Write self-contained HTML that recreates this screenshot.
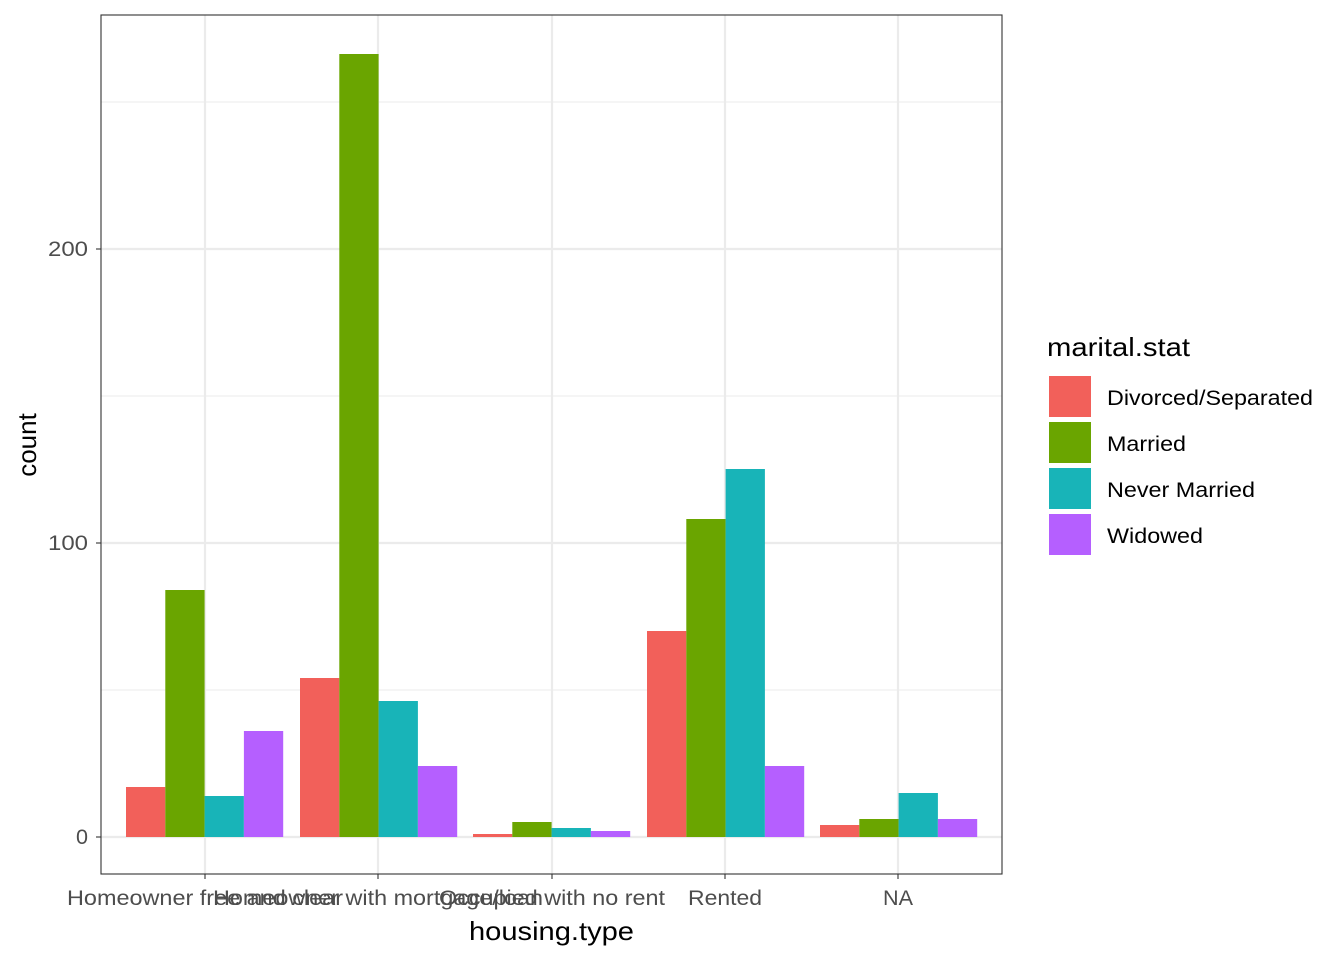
<!DOCTYPE html>
<html><head><meta charset="utf-8"><style>body{margin:0;background:#fff}</style></head><body>
<svg width="1344" height="960" xmlns="http://www.w3.org/2000/svg" font-family="Liberation Sans, Arial, sans-serif">
<rect width="1344" height="960" fill="#fff"/>
<g stroke="#ebebeb" stroke-width="1.1">
<line x1="101" x2="1002" y1="102" y2="102"/><line x1="101" x2="1002" y1="396" y2="396"/><line x1="101" x2="1002" y1="690" y2="690"/>
</g>
<g stroke="#ebebeb" stroke-width="2.2">
<line x1="101" x2="1002" y1="249" y2="249"/><line x1="101" x2="1002" y1="543" y2="543"/><line x1="101" x2="1002" y1="837" y2="837"/>
<line x1="205" x2="205" y1="15" y2="874"/><line x1="378" x2="378" y1="15" y2="874"/><line x1="552" x2="552" y1="15" y2="874"/><line x1="725" x2="725" y1="15" y2="874"/><line x1="898" x2="898" y1="15" y2="874"/>
</g>
<g>
<rect x="126" y="787" width="39.3" height="50" fill="#F2605A"/>
<rect x="165.3" y="590" width="39.3" height="247" fill="#6AA500"/>
<rect x="204.6" y="796" width="39.3" height="41" fill="#18B4B8"/>
<rect x="243.9" y="731" width="39.3" height="106" fill="#B55FFF"/>

<rect x="300" y="678" width="39.3" height="159" fill="#F2605A"/>
<rect x="339.3" y="54" width="39.3" height="783" fill="#6AA500"/>
<rect x="378.6" y="701" width="39.3" height="136" fill="#18B4B8"/>
<rect x="417.9" y="766" width="39.3" height="71" fill="#B55FFF"/>

<rect x="473" y="834" width="39.3" height="3" fill="#F2605A"/>
<rect x="512.3" y="822" width="39.3" height="15" fill="#6AA500"/>
<rect x="551.6" y="828" width="39.3" height="9" fill="#18B4B8"/>
<rect x="590.9" y="831" width="39.3" height="6" fill="#B55FFF"/>

<rect x="647" y="631" width="39.3" height="206" fill="#F2605A"/>
<rect x="686.3" y="519" width="39.3" height="318" fill="#6AA500"/>
<rect x="725.6" y="469" width="39.3" height="368" fill="#18B4B8"/>
<rect x="764.9" y="766" width="39.3" height="71" fill="#B55FFF"/>

<rect x="820" y="825" width="39.3" height="12" fill="#F2605A"/>
<rect x="859.3" y="819" width="39.3" height="18" fill="#6AA500"/>
<rect x="898.6" y="793" width="39.3" height="44" fill="#18B4B8"/>
<rect x="937.9" y="819" width="39.3" height="18" fill="#B55FFF"/>
</g>
<rect x="101" y="15" width="901" height="859" fill="none" stroke="#333" stroke-width="1.1"/>
<g stroke="#333" stroke-width="1.1">
<line x1="96" x2="101" y1="249" y2="249"/><line x1="96" x2="101" y1="543" y2="543"/><line x1="96" x2="101" y1="837" y2="837"/>
<line x1="205" x2="205" y1="874" y2="879"/><line x1="378" x2="378" y1="874" y2="879"/><line x1="552" x2="552" y1="874" y2="879"/><line x1="725" x2="725" y1="874" y2="879"/><line x1="898" x2="898" y1="874" y2="879"/>
</g>
<g fill="#4d4d4d" font-size="21">
<text x="48" y="256" textLength="40" lengthAdjust="spacingAndGlyphs">200</text>
<text x="48" y="550" textLength="40" lengthAdjust="spacingAndGlyphs">100</text>
<text x="76" y="844" textLength="12" lengthAdjust="spacingAndGlyphs">0</text>
</g>
<g fill="#4d4d4d" font-size="21">
<text x="67" y="905" textLength="276" lengthAdjust="spacingAndGlyphs">Homeowner free and clear</text>
<text x="213" y="905" textLength="330" lengthAdjust="spacingAndGlyphs">Homeowner with mortgage/loan</text>
<text x="439" y="905" textLength="226" lengthAdjust="spacingAndGlyphs">Occupied with no rent</text>
<text x="688" y="905" textLength="74" lengthAdjust="spacingAndGlyphs">Rented</text>
<text x="883" y="905" textLength="30" lengthAdjust="spacingAndGlyphs">NA</text>
</g>
<text x="469" y="940" font-size="26" fill="#000" textLength="165" lengthAdjust="spacingAndGlyphs">housing.type</text>
<text transform="translate(36,445) rotate(-90)" font-size="26" text-anchor="middle" fill="#000">count</text>
<text x="1047" y="356" font-size="26" fill="#000" textLength="143" lengthAdjust="spacingAndGlyphs">marital.stat</text>
<rect x="1049" y="376" width="42" height="41" fill="#F2605A"/>
<rect x="1049" y="422" width="42" height="41" fill="#6AA500"/>
<rect x="1049" y="468" width="42" height="41" fill="#18B4B8"/>
<rect x="1049" y="514" width="42" height="41" fill="#B55FFF"/>
<g font-size="21" fill="#000">
<text x="1107" y="405" textLength="206" lengthAdjust="spacingAndGlyphs">Divorced/Separated</text>
<text x="1107" y="451" textLength="79" lengthAdjust="spacingAndGlyphs">Married</text>
<text x="1107" y="497" textLength="148" lengthAdjust="spacingAndGlyphs">Never Married</text>
<text x="1107" y="543" textLength="96" lengthAdjust="spacingAndGlyphs">Widowed</text>
</g>
</svg>
</body></html>
